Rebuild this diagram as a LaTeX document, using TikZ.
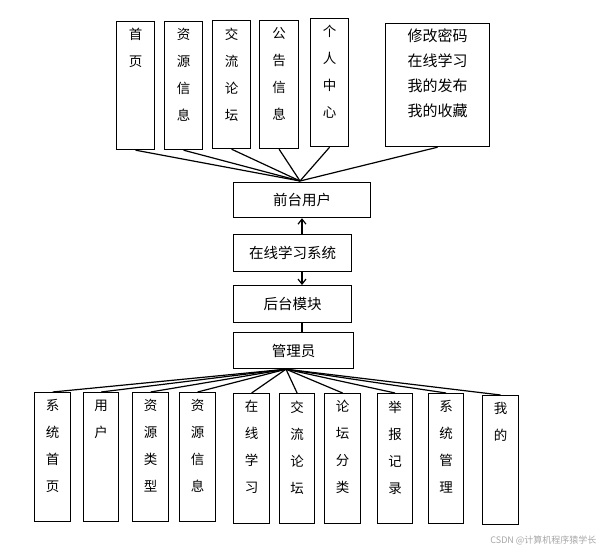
\documentclass[tikz,border=0pt]{standalone}
\usepackage{fontspec}
\setmainfont{Noto Sans CJK SC}
\usetikzlibrary{arrows.meta}
\newcommand{\colbox}[2]{\parbox[t][#1pt][t]{30pt}{\centering\fontsize{13.5}{27}\selectfont\vspace{6pt}#2}}
\begin{document}
\begin{tikzpicture}[x=1pt,y=-1pt,
  box/.style={draw,line width=1.2pt,inner sep=0pt,anchor=north west},
  hbox/.style={draw,line width=1.2pt,inner sep=0pt,anchor=north west,font=\fontsize{14.5}{16}\selectfont,align=center},
  ln/.style={line width=1.2pt},
  ar/.style={line width=1.2pt,-{Straight Barb[length=5pt,width=8pt]}}]
\useasboundingbox (0,0) rectangle (604,551);
% top
\node[box,minimum width=38pt,minimum height=128pt] (t1) at (116,21) {\colbox{126}{首\\页}};
\node[box,minimum width=38pt,minimum height=128pt] (t2) at (164,21) {\colbox{126}{资\\源\\信\\息}};
\node[box,minimum width=38pt,minimum height=128pt] (t3) at (212,20) {\colbox{126}{交\\流\\论\\坛}};
\node[box,minimum width=39pt,minimum height=128pt] (t4) at (259,20) {\colbox{126}{公\\告\\信\\息}};
\node[box,minimum width=38pt,minimum height=128pt] (t5) at (310,18) {\colbox{126}{个\\人\\中\\心}};
\node[box,minimum width=104pt,minimum height=123pt] (t6) at (385,23) {\parbox[t][121pt][t]{100pt}{\centering\fontsize{15}{25}\selectfont\vspace{4pt}修改密码\\在线学习\\我的发布\\我的收藏}};
% middle
\node[hbox,minimum width=137pt,minimum height=35pt] (qt) at (233,182) {前台用户};
\node[hbox,minimum width=118pt,minimum height=37pt] (xt) at (233,234) {在线学习系统};
\node[hbox,minimum width=118pt,minimum height=37pt] (ht) at (233,285) {后台模块};
\node[hbox,minimum width=120pt,minimum height=36pt] (gl) at (233,332) {管理员};
\coordinate (tc) at (300,181);
\foreach \n in {t1,t2,t3,t4,t5,t6} \draw[ln] (\n.south) -- (tc);
\draw[ar] (xt.north -| 302,0) -- (qt.south -| 302,0);
\draw[ar] (xt.south -| 302,0) -- (ht.north -| 302,0);
\draw[ln] (ht.south -| 302,0) -- (gl.north -| 302,0);
% bottom
\node[box,minimum width=36pt,minimum height=129pt] (b1) at (34,392) {\colbox{127}{系\\统\\首\\页}};
\node[box,minimum width=35pt,minimum height=129pt] (b2) at (83,392) {\colbox{127}{用\\户}};
\node[box,minimum width=36pt,minimum height=129pt] (b3) at (132,392) {\colbox{127}{资\\源\\类\\型}};
\node[box,minimum width=36pt,minimum height=129pt] (b4) at (179,392) {\colbox{127}{资\\源\\信\\息}};
\node[box,minimum width=36pt,minimum height=130pt] (b5) at (233,393) {\colbox{128}{在\\线\\学\\习}};
\node[box,minimum width=35pt,minimum height=130pt] (b6) at (279,393) {\colbox{128}{交\\流\\论\\坛}};
\node[box,minimum width=36pt,minimum height=130pt] (b7) at (324,393) {\colbox{128}{论\\坛\\分\\类}};
\node[box,minimum width=35pt,minimum height=130pt] (b8) at (377,393) {\colbox{128}{举\\报\\记\\录}};
\node[box,minimum width=35pt,minimum height=130pt] (b9) at (428,393) {\colbox{128}{系\\统\\管\\理}};
\node[box,minimum width=36pt,minimum height=129pt] (b10) at (482,395) {\colbox{127}{我\\的}};
\foreach \n in {b1,b2,b3,b4,b5,b6,b7,b8,b9,b10} \draw[ln] (gl.south -| 286,0) -- (\n.north);
\node[text=gray!70,font=\fontsize{9}{10}\selectfont,anchor=east] (wm) at (600,540) {CSDN @计算机程序猿学长};
\end{tikzpicture}
\end{document}
